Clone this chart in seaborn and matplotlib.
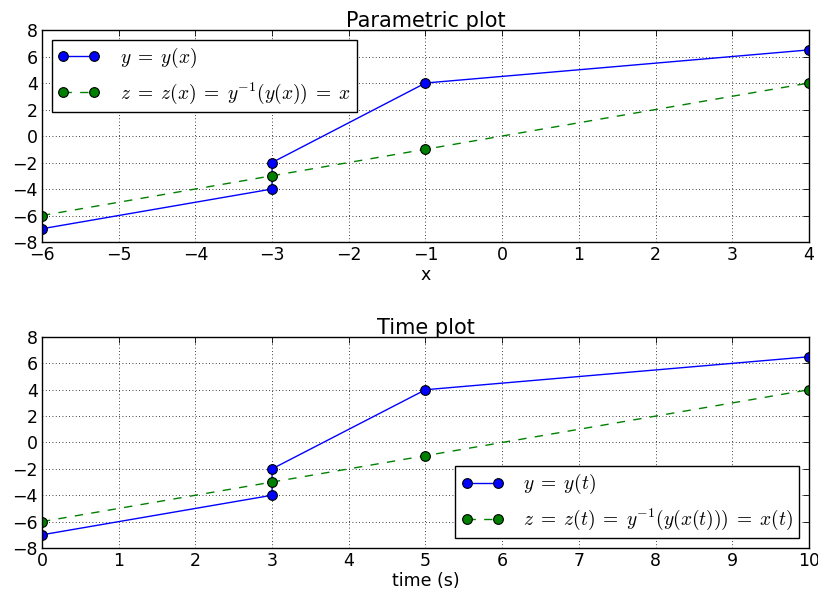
import matplotlib
matplotlib.use("Agg")
import matplotlib.pyplot as plt
import seaborn as sns
import numpy as np

# data
x_y = [-6, -3, -3, -1, 4]
y_vals = [-7, -4, -2, 4, 6.5]
x_z = [-6, -3, -1, 4]
z_vals = [-6, -3, -1, 4]
t_y = [0, 3, 3, 5, 10]
t_z = [0, 3, 5, 10]
y_ticks = [-8, -6, -4, -2, 0, 2, 4, 6, 8]
x_ticks_top = [-6, -5, -4, -3, -2, -1, 0, 1, 2, 3, 4]
x_ticks_bot = [0, 1, 2, 3, 4, 5, 6, 7, 8, 9, 10]

sns.set_style("white")
plt.rcParams.update({
    "font.family": ["DejaVu Sans"],
    "mathtext.fontset": "cm",
    "font.size": 12.5,
    "xtick.direction": "in",
    "ytick.direction": "in",
    "xtick.top": True,
    "ytick.right": True,
    "xtick.major.size": 4,
    "ytick.major.size": 4,
    "xtick.major.width": 0.6,
    "ytick.major.width": 0.6,
    "xtick.color": "black",
    "ytick.color": "black",
    "xtick.labelsize": 12.5,
    "ytick.labelsize": 12.5,
    "axes.edgecolor": "black",
    "axes.linewidth": 1.0,
    "text.color": "black",
    "axes.labelcolor": "black",
})

fig = plt.figure(figsize=(8.18, 5.98), dpi=100)
ax1 = fig.add_axes([0.0513, 0.5953, 0.9377, 0.3545])
ax2 = fig.add_axes([0.0513, 0.0836, 0.9377, 0.3529])

blue = "#0000ff"
green = "#008000"
common = dict(estimator=None, sort=False, marker="o", markersize=7,
              markeredgecolor="black", markeredgewidth=0.8, linewidth=1.0)


def draw(ax, xa, xb, lab1, lab2, xticks, xlabel, title, loc):
    sns.lineplot(x=xa, y=y_vals, ax=ax, color=blue, label=lab1, **common)
    sns.lineplot(x=xb, y=z_vals, ax=ax, color=green, linestyle=(0, (6, 6)),
                 label=lab2, **common)
    ax.set_xlim(xticks[0], xticks[-1])
    ax.set_ylim(y_ticks[0], y_ticks[-1])
    ax.set_xticks(xticks)
    ax.set_yticks(y_ticks)
    ax.set_xlabel(xlabel, fontsize=12.5, labelpad=1)
    ax.set_title(title, fontsize=15, pad=2)
    ax.grid(True, color="black", linestyle=(0, (1, 3)), linewidth=0.6)
    ax.tick_params(axis="both", which="both", pad=3)
    for s in ax.spines.values():
        s.set_visible(True)
    leg = ax.legend(loc=loc, numpoints=2, fontsize=14, fancybox=False,
                    frameon=True, framealpha=1, edgecolor="black",
                    handlelength=2.2, borderpad=0.3, labelspacing=0.55,
                    handletextpad=1.0, borderaxespad=0.5)
    leg.get_frame().set_linewidth(1.0)


draw(ax1, x_y, x_z, r"$y\;=\;y(x)$",
     r"$z\;=\;z(x)\;=\;y^{-1}(y(x))\;=\;x$",
     x_ticks_top, "x", "Parametric plot", "upper left")
draw(ax2, t_y, t_z, r"$y\;=\;y(t)$",
     r"$z\;=\;z(t)\;=\;y^{-1}(y(x(t)))\;=\;x(t)$",
     x_ticks_bot, "time (s)", "Time plot", "lower right")

fig.savefig("out.png", dpi=100)
